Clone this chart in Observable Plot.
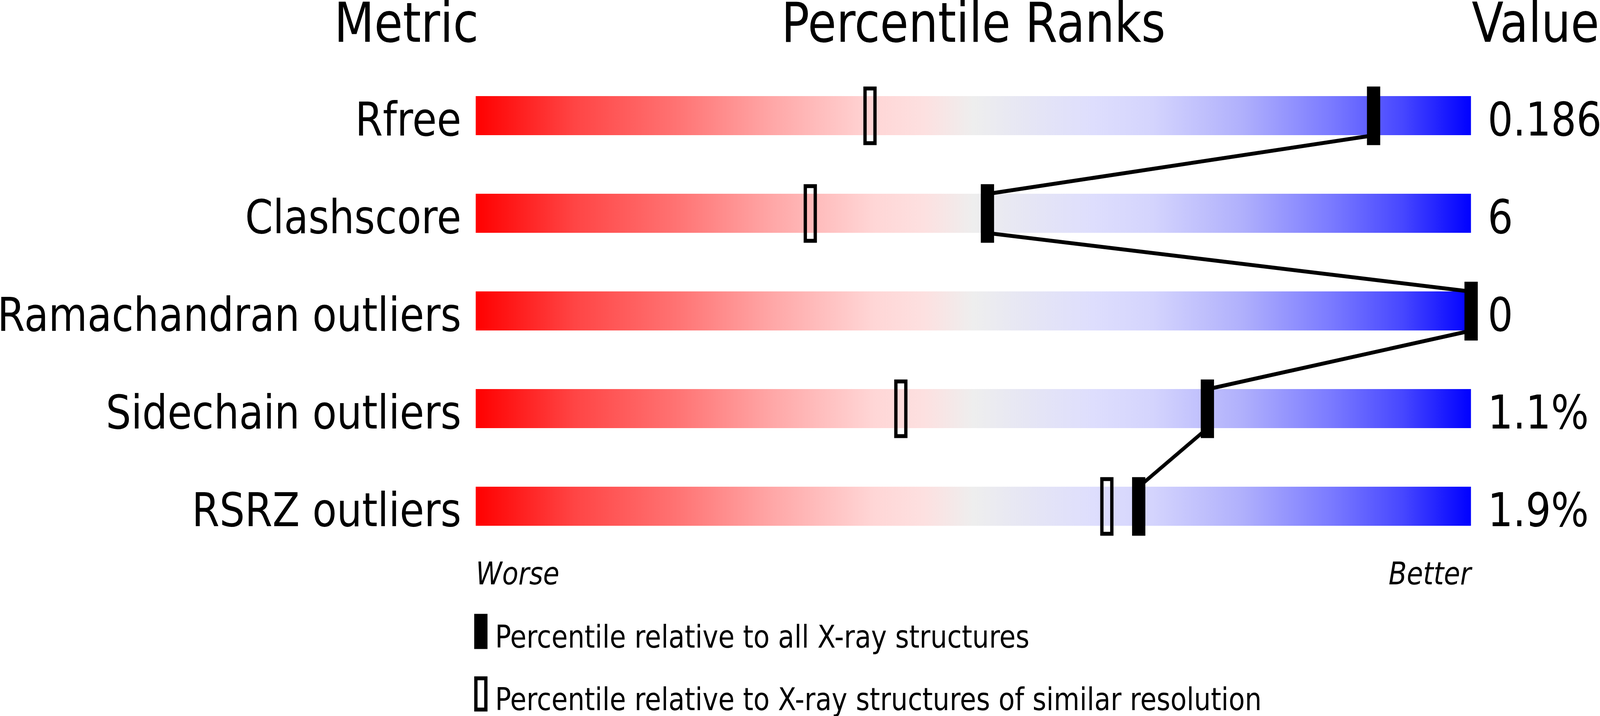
<!DOCTYPE html>
<html>
<head>
<meta charset="utf-8">
<script src="https://cdn.jsdelivr.net/npm/d3@7"></script>
<script src="https://cdn.jsdelivr.net/npm/@observablehq/plot@0.6"></script>
<style>
  html, body { margin: 0; padding: 0; background: #ffffff; overflow: hidden; }
  #chart { overflow: hidden; }
  #chart svg { display: block; overflow: hidden; }
</style>
</head>
<body>
<div id="chart"></div>
<script>
// ---- data ----
const metrics = ["Rfree", "Clashscore", "Ramachandran outliers", "Sidechain outliers", "RSRZ outliers"];
const valueLabels = ["0.186", "6", "0", "1.1%", "1.9%"];
const pctAll = [90.2, 51.4, 100, 73.5, 66.6];        // percentile relative to all X-ray structures
const pctSimilar = [39.6, 33.6, 100, 42.7, 63.4];    // percentile relative to similar resolution
const headers = ["Metric", "Percentile Ranks", "Value"];
const endLabels = ["Worse", "Better"];
const legendLabels = [
  "Percentile relative to all X-ray structures",
  "Percentile relative to X-ray structures of similar resolution"
];

// ---- derived tables ----
const BAR_HALF = 0.2; // half bar thickness in row units
const rows = metrics.map((m, i) => ({i, metric: m, value: valueLabels[i], all: pctAll[i], similar: pctSimilar[i]}));
const links = rows.slice(1).map((r, k) => ({x1: rows[k].all, y1: rows[k].i + BAR_HALF, x2: r.all, y2: r.i - BAR_HALF}));

// custom rectangular symbols
const rectSymbol = (w, h) => ({draw(ctx) { ctx.rect(-w / 2, -h / 2, w, h); }});
const filledMarker = rectSymbol(40, 150);
const hollowMarker = rectSymbol(30, 140);
const filledLegend = rectSymbol(40, 90);
const hollowLegend = rectSymbol(30, 80);

const FONT = "DejaVu Sans";
const W = 4823, H = 1833;

const plot = Plot.plot({
  width: W,
  height: H,
  marginTop: 0, marginRight: 0, marginBottom: 0, marginLeft: 0,
  x: {domain: [0, 100], range: [1434, 4434], axis: null},
  y: {domain: [0, 4], range: [296, 1296], axis: null},
  style: {fontFamily: FONT, background: "#ffffff", color: "#000000", overflow: "hidden"},
  marks: [
    // gradient bars
    Plot.rect(rows, {x1: 0, x2: 100, y1: d => d.i - BAR_HALF, y2: d => d.i + BAR_HALF, fill: "url(#wwpdbGrad)"}),
    // similar-resolution markers (hollow)
    Plot.dot(rows, {x: "similar", y: "i", symbol: hollowMarker, fill: "none", stroke: "#000000", strokeWidth: 10}),
    // connecting line
    Plot.link(links, {x1: "x1", y1: "y1", x2: "x2", y2: "y2", stroke: "#000000", strokeWidth: 10}),
    // all-structures markers (filled)
    Plot.dot(rows, {x: "all", y: "i", symbol: filledMarker, fill: "#000000", stroke: "none"}),
    // metric labels
    Plot.text(rows, {x: 0, y: "i", text: "metric", textAnchor: "end", lineAnchor: "bottom", dx: -44, dy: 50, fontSize: 120, fill: "#000000"}),
    // values
    Plot.text(rows, {x: 100, y: "i", text: "value", textAnchor: "start", lineAnchor: "bottom", dx: 50, dy: 50, fontSize: 120, fill: "#000000"}),
    // headers
    Plot.text([headers[0]], {x: 0, frameAnchor: "top", text: d => d, textAnchor: "end", lineAnchor: "bottom", dx: 8, dy: 106, fontSize: 140, fill: "#000000"}),
    Plot.text([headers[1]], {x: 50, frameAnchor: "top", text: d => d, textAnchor: "middle", lineAnchor: "bottom", dy: 106, fontSize: 140, fill: "#000000"}),
    Plot.text([headers[2]], {x: 100, frameAnchor: "top", text: d => d, textAnchor: "start", lineAnchor: "bottom", dx: 2, dy: 106, fontSize: 140, fill: "#000000"}),
    // worse / better
    Plot.text([endLabels[0]], {x: 0, frameAnchor: "top", text: d => d, textAnchor: "start", lineAnchor: "bottom", dy: 1495, fontSize: 80, fontStyle: "italic", fill: "#000000"}),
    Plot.text([endLabels[1]], {x: 100, frameAnchor: "top", text: d => d, textAnchor: "end", lineAnchor: "bottom", dy: 1495, fontSize: 80, fontStyle: "italic", fill: "#000000"}),
    // legend
    Plot.dot([0], {x: 0, frameAnchor: "top", symbol: filledLegend, fill: "#000000", stroke: "none", dx: 15, dy: 1616}),
    Plot.dot([0], {x: 0, frameAnchor: "top", symbol: hollowLegend, fill: "none", stroke: "#000000", strokeWidth: 10, dx: 15, dy: 1776}),
    Plot.text([legendLabels[0]], {x: 0, frameAnchor: "top", text: d => d, textAnchor: "start", lineAnchor: "bottom", dx: 58, dy: 1657, fontSize: 80, fill: "#000000"}),
    Plot.text([legendLabels[1]], {x: 0, frameAnchor: "top", text: d => d, textAnchor: "start", lineAnchor: "bottom", dx: 58, dy: 1817, fontSize: 80, fill: "#000000"})
  ]
});

// gradient definition
const stops = [
  [0, "#ff0000"], [0.1, "#ff4545"], [0.2, "#ff7272"], [0.3, "#ffa8a8"], [0.4, "#ffd6d6"],
  [0.45, "#fde0e0"], [0.5, "#eeeeee"], [0.56, "#e5e5f5"], [0.62, "#dedefd"],
  [0.68, "#d4d4fd"], [0.77, "#b0b0fc"], [0.86, "#7a7aff"], [0.93, "#4848ff"], [1, "#0000ff"]
];
const defs = d3.select(plot).insert("defs", ":first-child");
const grad = defs.append("linearGradient").attr("id", "wwpdbGrad").attr("x1", "0").attr("x2", "1").attr("y1", "0").attr("y2", "0");
stops.forEach(([o, c]) => grad.append("stop").attr("offset", o).attr("stop-color", c));

// fit the whole 4823x1833 drawing to the actual window
function fit() {
  const vw = window.innerWidth || W;
  const vh = window.innerHeight || H;
  plot.setAttribute("viewBox", `0 0 ${W} ${H}`);
  plot.setAttribute("preserveAspectRatio", "none");
  plot.setAttribute("width", vw);
  plot.setAttribute("height", vh);
  plot.style.width = vw + "px";
  plot.style.height = vh + "px";
  plot.style.maxWidth = "none";
}
document.getElementById("chart").appendChild(plot);
fit();
window.addEventListener("resize", fit);
</script>
</body>
</html>
